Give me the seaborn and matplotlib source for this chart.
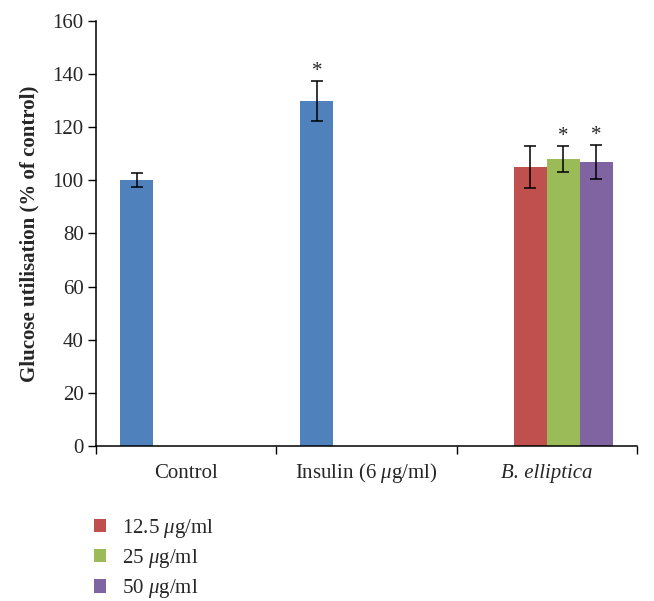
import matplotlib
matplotlib.use("Agg")
import matplotlib.pyplot as plt
import seaborn as sns
import pandas as pd
import numpy as np
from matplotlib.patches import Patch

sns.set_style("white")
plt.rcParams['font.family'] = ['Liberation Serif', 'DejaVu Serif']
plt.rcParams['mathtext.fontset'] = 'custom'
plt.rcParams['mathtext.rm'] = 'Liberation Serif'
plt.rcParams['mathtext.it'] = 'Liberation Serif:italic'
plt.rcParams['mathtext.bf'] = 'Liberation Serif:bold'

# ---- data ----
categories = ["Control", r"Insulin (6 $\mu$g/ml)", "B. elliptica"]
series_names = ["Reference", r"12.5 $\mu$g/ml", r"25 $\mu$g/ml", r"50 $\mu$g/ml"]
bar_category = ["Control", r"Insulin (6 $\mu$g/ml)", "B. elliptica", "B. elliptica", "B. elliptica"]
bar_series = ["Reference", "Reference", r"12.5 $\mu$g/ml", r"25 $\mu$g/ml", r"50 $\mu$g/ml"]
bar_values = [100, 130, 105, 108, 107]
bar_errors = [2.6, 7.5, 8.0, 5.0, 6.5]
significant = [False, True, False, True, True]
colors = ["#4F81BD", "#C0504D", "#9BBB59", "#8064A2"]
yticks = [0, 20, 40, 60, 80, 100, 120, 140, 160]

FS = 15

df = pd.DataFrame({"category": bar_category, "series": bar_series,
                   "value": bar_values, "err": bar_errors, "sig": significant})

fig = plt.figure(figsize=(6.54, 6.01), dpi=100)
ax = fig.add_axes([0.1468, 0.258, 0.8272, 0.707])

sns.barplot(data=df, x="category", y="value", hue="series",
            order=categories, hue_order=series_names,
            palette=colors, width=0.733, dodge=True, errorbar=None,
            saturation=1, legend=False, ax=ax, linewidth=0)

patches = [p for p in ax.patches if p.get_height() > 0]
for _, row in df.iterrows():
    ci = categories.index(row["category"])
    target = matplotlib.colors.to_rgb(colors[series_names.index(row["series"])])
    best = None
    for p in patches:
        cx = p.get_x() + p.get_width() / 2
        if abs(cx - ci) < 0.5 and np.allclose(p.get_facecolor()[:3], target):
            best = p
    if best is None:
        continue
    cx = best.get_x() + best.get_width() / 2
    ax.errorbar(cx, row["value"], yerr=row["err"], fmt="none", ecolor="black",
                elinewidth=1.1, capsize=4.5, capthick=1.1)
    if row["sig"]:
        ax.annotate("*", (cx, row["value"] + row["err"]), xytext=(0, 0),
                    textcoords="offset points", ha="center", va="bottom",
                    fontsize=FS)

ax.set_ylim(0, 160)
ax.set_yticks(yticks)
ax.set_xlim(-0.5, 2.5)
ax.set_xticks(range(len(categories)))
ax.set_xticklabels(categories, fontsize=FS)
for lbl in ax.get_xticklabels():
    lbl.set_verticalalignment("baseline")
ax.get_xticklabels()[2].set_fontstyle("italic")
ax.set_xticks([-0.5, 0.5, 1.5, 2.5], minor=True)
ax.tick_params(axis="x", which="major", bottom=True, length=0, pad=23)
ax.tick_params(axis="x", which="minor", bottom=True, length=6, width=1,
               color="black", direction="out")
ax.tick_params(axis="y", left=True, length=6, width=1, color="black",
               direction="out", labelsize=FS, pad=3)

ax.set_xlabel("")
ax.set_ylabel("Glucose utilisation (% of control)", fontsize=15, fontweight="bold", labelpad=9)

sns.despine(ax=ax)
for s in ["left", "bottom"]:
    ax.spines[s].set_color("black")
    ax.spines[s].set_linewidth(1.1)

handles = [Patch(facecolor=c, edgecolor="none") for c in colors[1:]]
fig.legend(handles, series_names[1:], loc="upper left", bbox_to_anchor=(0.143, 0.14),
           frameon=False, fontsize=FS, handlelength=0.6, handleheight=0.6,
           labelspacing=0.35, handletextpad=0.75, borderaxespad=0, borderpad=0)

fig.savefig("out.png", dpi=100)
